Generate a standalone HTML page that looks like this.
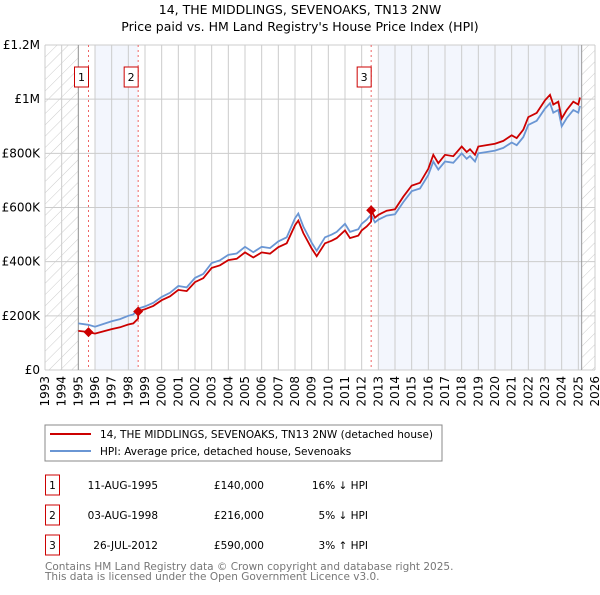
<!DOCTYPE html>
<html><head><meta charset="utf-8"><style>
body{margin:0;background:#fff;font-family:"Liberation Sans","DejaVu Sans",sans-serif;}
svg text{font-family:"DejaVu Sans","Liberation Sans",sans-serif;}
</style></head><body>
<svg id="c" width="600" height="590" viewBox="0 0 600 590" xmlns="http://www.w3.org/2000/svg">
<defs><pattern id="hatch" width="8" height="8" patternUnits="userSpaceOnUse" patternTransform="rotate(45)"><line x1="0" y1="0" x2="0" y2="8" stroke="#ccc" stroke-width="1"/></pattern></defs>
<text x="300" y="14" text-anchor="middle" font-size="12.5">14, THE MIDDLINGS, SEVENOAKS, TN13 2NW</text>
<text x="300" y="31" text-anchor="middle" font-size="12.5">Price paid vs. HM Land Registry's House Price Index (HPI)</text>
<g id="plot"></g>
<rect x="45" y="425" width="397" height="36" fill="#fff" stroke="#888"/>
<line x1="50" y1="434" x2="91" y2="434" stroke="#cc0000" stroke-width="2"/>
<text x="100" y="438" font-size="10.5">14, THE MIDDLINGS, SEVENOAKS, TN13 2NW (detached house)</text>
<line x1="50" y1="451" x2="91" y2="451" stroke="#6a96d4" stroke-width="2"/>
<text x="100" y="455" font-size="10.5">HPI: Average price, detached house, Sevenoaks</text>
<g id="table" font-size="10.5"></g>
<text x="45" y="570" font-size="10.5" fill="#777">Contains HM Land Registry data © Crown copyright and database right 2025.</text>
<text x="45" y="580" font-size="10.5" fill="#777">This data is licensed under the Open Government Licence v3.0.</text>
</svg>
<script>
const hpiYears=[1995.0,1995.6,1996.0,1996.5,1997.0,1997.5,1998.0,1998.3,1998.6,1999.0,1999.5,2000.0,2000.5,2001.0,2001.5,2002.0,2002.5,2003.0,2003.5,2004.0,2004.5,2005.0,2005.5,2006.0,2006.5,2007.0,2007.5,2008.0,2008.2,2008.5,2009.0,2009.3,2009.8,2010.2,2010.5,2011.0,2011.3,2011.8,2012.0,2012.3,2012.56,2012.8,2013.0,2013.5,2014.0,2014.5,2015.0,2015.5,2016.0,2016.3,2016.6,2017.0,2017.5,2018.0,2018.3,2018.5,2018.8,2019.0,2019.5,2020.0,2020.5,2021.0,2021.3,2021.7,2022.0,2022.5,2023.0,2023.3,2023.5,2023.8,2024.0,2024.3,2024.7,2025.0,2025.1];
const hpiValues=[172,167,160,170,180,188,200,205,227,235,248,270,285,310,305,340,355,395,405,425,430,455,435,455,450,475,490,560,578,530,470,440,490,500,510,540,510,520,540,555,573,545,555,570,575,620,660,670,720,770,740,770,765,800,780,790,770,800,805,810,820,840,830,860,905,920,965,985,950,960,900,930,960,950,975];
const saleYears=[1995.61,1998.59,2012.57];
const salePrices=[140,216,590];
const saleLabels=["1","2","3"];
const saleDates=["11-AUG-1995","03-AUG-1998","26-JUL-2012"];
const saleText=["£140,000","£216,000","£590,000"];
const salePct=["16% ↓ HPI","5% ↓ HPI","3% ↑ HPI"];
const yTicks=[0,200,400,600,800,1000,1200];
const yTickLabels=["£0","£200K","£400K","£600K","£800K","£1M","£1.2M"];
const xStart=1993,xEnd=2026;
const NS="http://www.w3.org/2000/svg";
const X0=45,X1=595,Y0=370,Y1=45;
const xs=v=>X0+(v-xStart)/(xEnd-xStart)*(X1-X0);
const ys=v=>Y0-v/1200*(Y0-Y1);
const plot=document.getElementById('plot');
function mk(tag,attrs,parent){const e=document.createElementNS(NS,tag);for(const k in attrs)e.setAttribute(k,attrs[k]);(parent||plot).appendChild(e);return e;}
function hpiAt(t){for(let i=0;i<hpiYears.length-1;i++){if(t<=hpiYears[i+1]){const f=(t-hpiYears[i])/(hpiYears[i+1]-hpiYears[i]);return hpiValues[i]+f*(hpiValues[i+1]-hpiValues[i]);}}return hpiValues[hpiValues.length-1];}
let e;
e=mk('rect',{x:X0,y:Y1,width:X1-X0,height:Y0-Y1,fill:'#fff'});


e=mk('rect',{x:xs(1996),y:Y1,width:xs(saleYears[1])-xs(1996),height:Y0-Y1,fill:'#f3f6fd'});


e=mk('rect',{x:xs(2013),y:Y1,width:xs(2025.2)-xs(2013),height:Y0-Y1,fill:'#f3f6fd'});


e=mk('rect',{x:X0,y:Y1,width:xs(1995)-X0,height:Y0-Y1,fill:'url(#hatch)'});


e=mk('rect',{x:xs(2025.2),y:Y1,width:X1-xs(2025.2),height:Y0-Y1,fill:'url(#hatch)'});


for(let yr=xStart;yr<=xEnd;yr++){
 e=mk('line',{x1:xs(yr),x2:xs(yr),y1:Y1,y2:Y0,stroke:'#ccc','stroke-width':1});
 
 
 const tx=xs(yr)+4;
 e=mk('text',{x:tx,y:Y0+6,transform:`rotate(-90 ${tx} ${Y0+6})`,'text-anchor':'end','font-size':12});
 
 
 e.textContent=yr;
}
yTicks.forEach((v,i)=>{
 e=mk('line',{x1:X0,x2:X1,y1:ys(v),y2:ys(v),stroke:'#ccc','stroke-width':1});
 
 
 e=mk('text',{x:X0-5,y:ys(v)+4,'text-anchor':'end','font-size':12});
 
 
 e.textContent=yTickLabels[i];
});
e=mk('line',{x1:xs(1995),x2:xs(1995),y1:Y1,y2:Y0,stroke:'#999','stroke-width':1});


e=mk('line',{x1:xs(2025.2),x2:xs(2025.2),y1:Y1,y2:Y0,stroke:'#999','stroke-width':1});


saleYears.forEach((t,i)=>{
 e=mk('line',{x1:xs(t),x2:xs(t),y1:Y1,y2:Y0,stroke:'#e66','stroke-width':1,'stroke-dasharray':'2,3'});
 
 
 e=mk('rect',{x:xs(t)-14,y:67,width:14,height:20,fill:'#fff',stroke:'#cc0000'});
 
 
 e=mk('text',{x:xs(t)-7,y:81,'text-anchor':'middle','font-size':11});
 
 
 e.textContent=saleLabels[i];
});
let d=hpiYears.map((t,i)=>(i?'L':'M')+xs(t).toFixed(1)+','+ys(hpiValues[i]).toFixed(1)).join('');
e=mk('path',{d:d,fill:'none',stroke:'#6a96d4','stroke-width':1.8});


function propAt(t){let k=0;for(let i=0;i<saleYears.length;i++)if(t>=saleYears[i])k=i;return hpiAt(t)*salePrices[k]/hpiAt(saleYears[k]);}
let pts=[];const allT=[...hpiYears,...saleYears,...saleYears.map(s=>s-0.001)].sort((a,b)=>a-b);
allT.forEach(t=>pts.push([xs(t),ys(propAt(t))]));
d=pts.map((p,i)=>(i?'L':'M')+p[0].toFixed(1)+','+p[1].toFixed(1)).join('');
e=mk('path',{d:d,fill:'none',stroke:'#cc0000','stroke-width':1.8});


saleYears.forEach((t,i)=>{
 const cx=xs(t),cy=ys(salePrices[i]);
 e=mk('path',{d:`M${cx},${cy-5}L${cx+5},${cy}L${cx},${cy+5}L${cx-5},${cy}Z`,fill:'#cc0000'});
 
 
});
const tb=document.getElementById('table');
saleYears.forEach((t,i)=>{
 const y=475+i*30;
 e=mk('rect',{x:45.5,y:y,width:14,height:20,fill:'#fff',stroke:'#cc0000'},tb);
 
 
 e=mk('text',{x:52.5,y:y+14,'text-anchor':'middle'},tb);
 
 
 e.textContent=saleLabels[i];
 e=mk('text',{x:158,y:y+14,'text-anchor':'end'},tb);
 
 
 e.textContent=saleDates[i];
 e=mk('text',{x:264,y:y+14,'text-anchor':'end'},tb);
 
 
 e.textContent=saleText[i];
 e=mk('text',{x:368,y:y+14,'text-anchor':'end'},tb);
 
 
 e.textContent=salePct[i];
});
</script>
</body></html>
